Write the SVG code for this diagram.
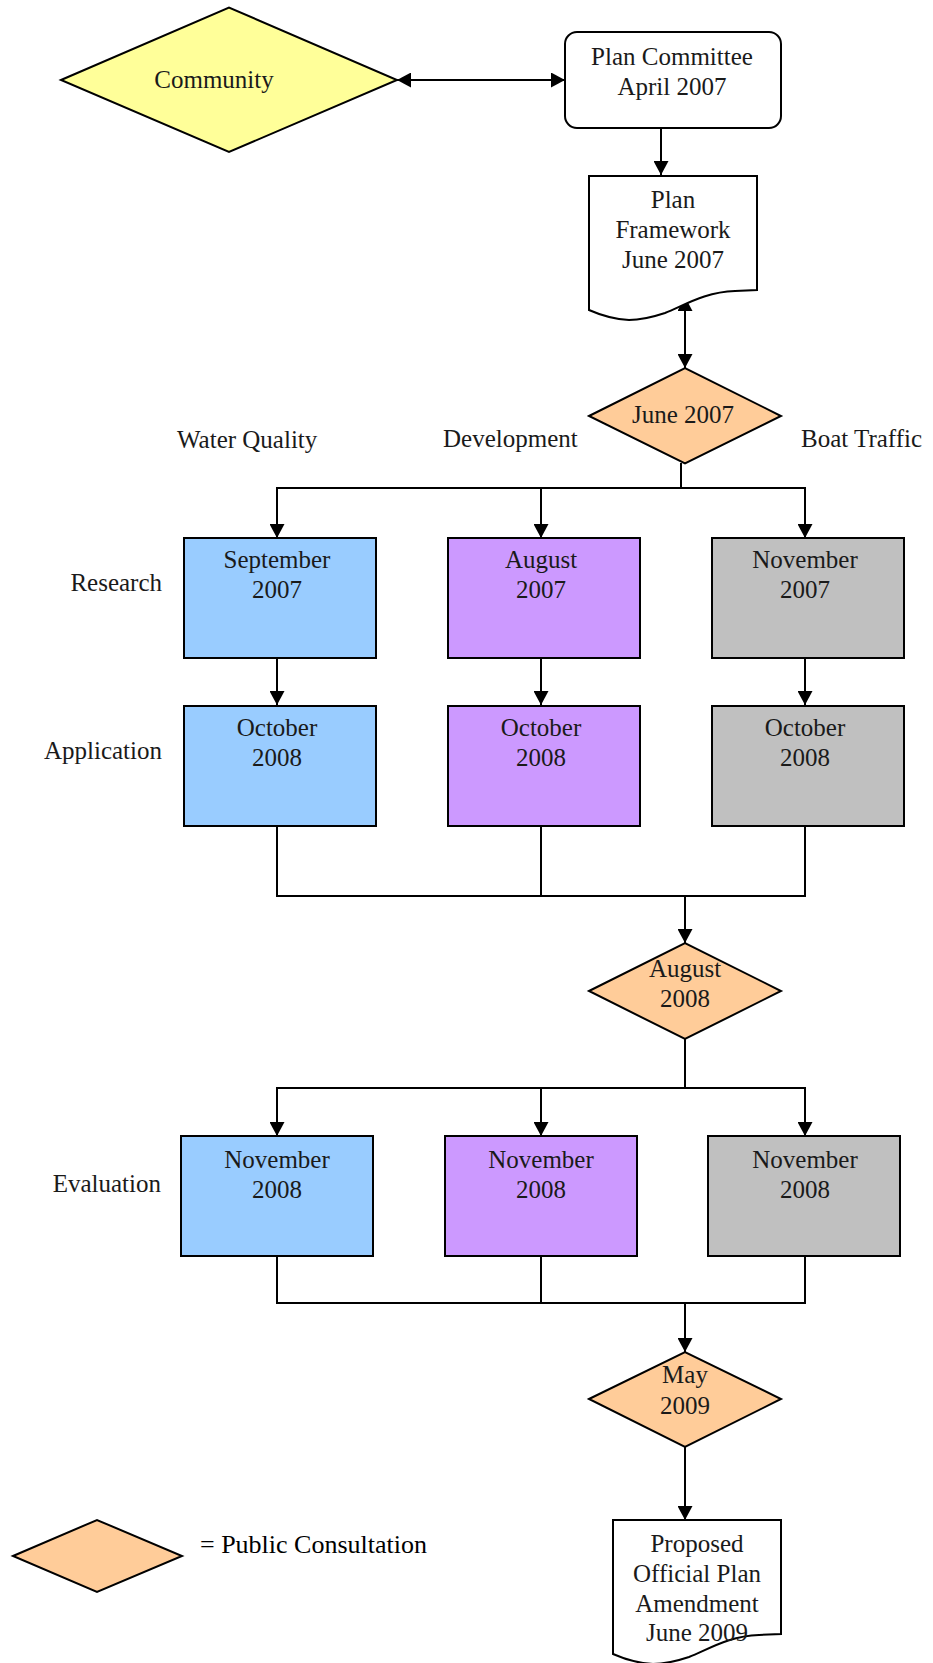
<svg xmlns="http://www.w3.org/2000/svg" width="933" height="1663" viewBox="0 0 933 1663">
<style>
.t{font-family:"Liberation Serif","Times New Roman",serif;font-size:25px;fill:#1a1a1a}
.m{text-anchor:middle}
.e{text-anchor:end}
.s{stroke:#000;stroke-width:2}
.c{fill:none;stroke:#000;stroke-width:2}
.blue{fill:#99CCFF}
.purple{fill:#CC99FF}
.gray{fill:#C0C0C0}
.orange{fill:#FFCC99}
.yellow{fill:#FFFF99}
.white{fill:#FFFFFF}
</style>
<defs>
<marker id="ah" viewBox="0 0 10 10" refX="10" refY="5" markerWidth="14" markerHeight="15" markerUnits="userSpaceOnUse" orient="auto-start-reverse" preserveAspectRatio="none">
<path d="M0,0 L10,5 L0,10 z" fill="#000"/>
</marker>
</defs>
<rect width="933" height="1663" fill="#fff"/>

<g id="connectors">
<line class="c" x1="397" y1="80" x2="565" y2="80" marker-start="url(#ah)" marker-end="url(#ah)"/>
<line class="c" x1="661" y1="128" x2="661" y2="175" marker-end="url(#ah)"/>
<line class="c" x1="685" y1="297" x2="685" y2="368" marker-start="url(#ah)" marker-end="url(#ah)"/>
<polyline class="c" points="681,463 681,488"/>
<polyline class="c" points="277,538 277,488 805,488 805,538" marker-start="url(#ah)" marker-end="url(#ah)"/>
<line class="c" x1="541" y1="488" x2="541" y2="538" marker-end="url(#ah)"/>
<line class="c" x1="277" y1="658" x2="277" y2="705" marker-end="url(#ah)"/>
<line class="c" x1="541" y1="658" x2="541" y2="705" marker-end="url(#ah)"/>
<line class="c" x1="805" y1="658" x2="805" y2="705" marker-end="url(#ah)"/>
<polyline class="c" points="277,826 277,896 805,896 805,826"/>
<line class="c" x1="541" y1="826" x2="541" y2="896"/>
<line class="c" x1="685" y1="896" x2="685" y2="943" marker-end="url(#ah)"/>
<line class="c" x1="685" y1="1039" x2="685" y2="1088"/>
<polyline class="c" points="277,1136 277,1088 805,1088 805,1136" marker-start="url(#ah)" marker-end="url(#ah)"/>
<line class="c" x1="541" y1="1088" x2="541" y2="1136" marker-end="url(#ah)"/>
<polyline class="c" points="277,1256 277,1303 805,1303 805,1256"/>
<line class="c" x1="541" y1="1256" x2="541" y2="1303"/>
<line class="c" x1="685" y1="1303" x2="685" y2="1352" marker-end="url(#ah)"/>
<line class="c" x1="685" y1="1447" x2="685" y2="1520" marker-end="url(#ah)"/>
</g>

<g id="community">
<polygon class="yellow s" points="61,80 229,7.5 397,80 229,152"/>
<text class="t m" x="214" y="88">Community</text>
</g>

<g id="plan-committee">
<rect class="white s" x="565" y="32" width="216" height="96" rx="12" ry="12"/>
<text class="t m" x="672" y="65">Plan Committee</text>
<text class="t m" x="672" y="95">April 2007</text>
</g>

<g id="plan-framework">
<path class="white s" d="M589,176 H757 V290 L735,291 C705,292 685,305 665,313 C650,318 638,320 629,320 C610,319 598,314 589,310 Z"/>
<text class="t m" x="673" y="208">Plan</text>
<text class="t m" x="673" y="238">Framework</text>
<text class="t m" x="673" y="268">June 2007</text>
</g>

<g id="june-2007">
<polygon class="orange s" points="589,416 685,368 781,416 685,463.5"/>
<text class="t m" x="683" y="423">June 2007</text>
</g>

<g id="column-labels">
<text class="t" x="177" y="448">Water Quality</text>
<text class="t" x="443" y="447">Development</text>
<text class="t" x="801" y="447">Boat Traffic</text>
</g>

<g id="row-labels">
<text class="t e" x="162" y="591">Research</text>
<text class="t e" x="162" y="759">Application</text>
<text class="t e" x="161" y="1192">Evaluation</text>
</g>

<g id="research-water">
<rect class="blue s" x="184" y="538" width="192" height="120"/>
<text class="t m" x="277" y="568">September</text>
<text class="t m" x="277" y="598">2007</text>
</g>
<g id="research-development">
<rect class="purple s" x="448" y="538" width="192" height="120"/>
<text class="t m" x="541" y="568">August</text>
<text class="t m" x="541" y="598">2007</text>
</g>
<g id="research-boat">
<rect class="gray s" x="712" y="538" width="192" height="120"/>
<text class="t m" x="805" y="568">November</text>
<text class="t m" x="805" y="598">2007</text>
</g>

<g id="application-water">
<rect class="blue s" x="184" y="706" width="192" height="120"/>
<text class="t m" x="277" y="736">October</text>
<text class="t m" x="277" y="766">2008</text>
</g>
<g id="application-development">
<rect class="purple s" x="448" y="706" width="192" height="120"/>
<text class="t m" x="541" y="736">October</text>
<text class="t m" x="541" y="766">2008</text>
</g>
<g id="application-boat">
<rect class="gray s" x="712" y="706" width="192" height="120"/>
<text class="t m" x="805" y="736">October</text>
<text class="t m" x="805" y="766">2008</text>
</g>

<g id="august-2008">
<polygon class="orange s" points="589,991 685,943 781,991 685,1039"/>
<text class="t m" x="685" y="977">August</text>
<text class="t m" x="685" y="1007">2008</text>
</g>

<g id="evaluation-water">
<rect class="blue s" x="181" y="1136" width="192" height="120"/>
<text class="t m" x="277" y="1168">November</text>
<text class="t m" x="277" y="1198">2008</text>
</g>
<g id="evaluation-development">
<rect class="purple s" x="445" y="1136" width="192" height="120"/>
<text class="t m" x="541" y="1168">November</text>
<text class="t m" x="541" y="1198">2008</text>
</g>
<g id="evaluation-boat">
<rect class="gray s" x="708" y="1136" width="192" height="120"/>
<text class="t m" x="805" y="1168">November</text>
<text class="t m" x="805" y="1198">2008</text>
</g>

<g id="may-2009">
<polygon class="orange s" points="589,1399 685,1352 781,1399 685,1447"/>
<text class="t m" x="685" y="1383">May</text>
<text class="t m" x="685" y="1414">2009</text>
</g>

<g id="proposed-amendment">
<path class="white s" d="M613,1520 H781 V1634 L759,1635 C729,1636 709,1649 689,1657 C674,1662 662,1664 653,1664 C634,1663 622,1658 613,1654 Z"/>
<text class="t m" x="697" y="1552">Proposed</text>
<text class="t m" x="697" y="1582">Official Plan</text>
<text class="t m" x="697" y="1612">Amendment</text>
<text class="t m" x="697" y="1641">June 2009</text>
</g>

<g id="legend">
<polygon class="orange s" points="13,1556 97,1520 182,1556 97,1592"/>
<text x="200" y="1553" style="font-family:'Liberation Serif','Times New Roman',serif;font-size:26px;fill:#000">= Public Consultation</text>
</g>
</svg>
